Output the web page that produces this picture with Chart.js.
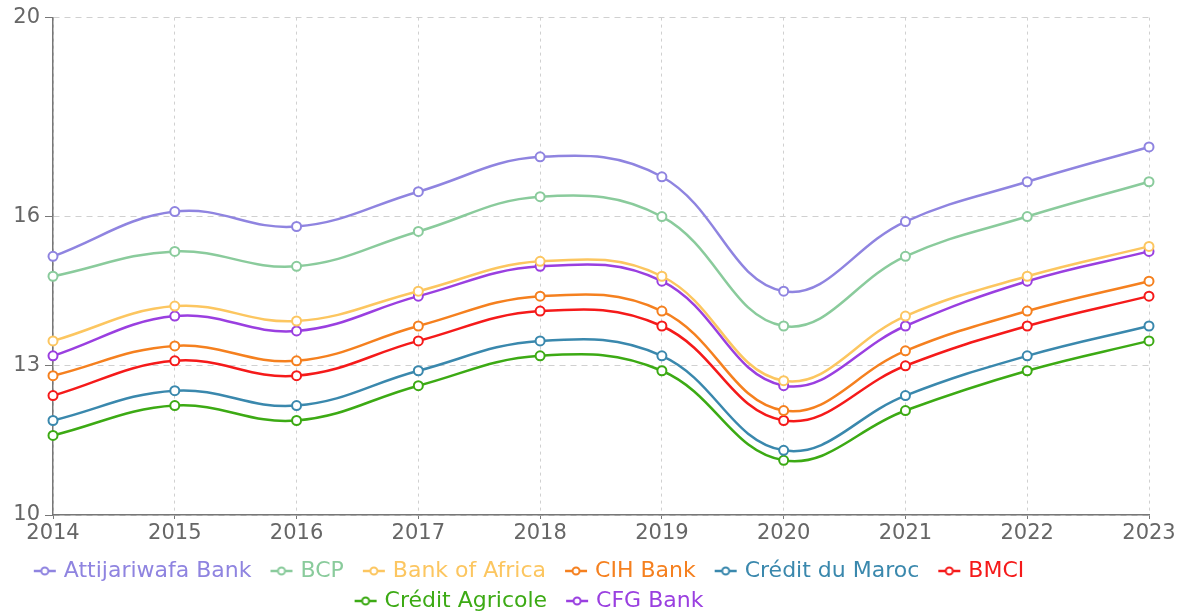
<!DOCTYPE html>
<html>
<head>
<meta charset="utf-8">
<script src="https://cdn.jsdelivr.net/npm/chart.js@4/dist/chart.umd.min.js"></script>
<style>
  html, body { margin: 0; padding: 0; background: #fff; }
  #wrap { width: 1186px; height: 612px; }
</style>
</head>
<body>
<div id="wrap"><canvas id="chart"></canvas></div>
<script>
var years = ["2014", "2015", "2016", "2017", "2018", "2019", "2020", "2021", "2022", "2023"];
var yTicks = [10, 13, 16, 20];

var attijariwafa = [15.2, 16.1, 15.8, 16.5, 17.2, 16.8, 14.5, 15.9, 16.7, 17.4];
var bcp = [14.8, 15.3, 15.0, 15.7, 16.4, 16.0, 13.8, 15.2, 16.0, 16.7];
var bankOfAfrica = [13.5, 14.2, 13.9, 14.5, 15.1, 14.8, 12.7, 14.0, 14.8, 15.4];
var cihBank = [12.8, 13.4, 13.1, 13.8, 14.4, 14.1, 12.1, 13.3, 14.1, 14.7];
var creditDuMaroc = [11.9, 12.5, 12.2, 12.9, 13.5, 13.2, 11.3, 12.4, 13.2, 13.8];
var bmci = [12.4, 13.1, 12.8, 13.5, 14.1, 13.8, 11.9, 13.0, 13.8, 14.4];
var creditAgricole = [11.6, 12.2, 11.9, 12.6, 13.2, 12.9, 11.1, 12.1, 12.9, 13.5];
var cfgBank = [13.2, 14.0, 13.7, 14.4, 15.0, 14.7, 12.6, 13.8, 14.7, 15.3];

var FONT = "'DejaVu Sans', sans-serif";

function series(label, data, color) {
  return {
    label: label,
    data: data,
    borderColor: color,
    backgroundColor: "#ffffff",
    borderWidth: 2.5,
    pointRadius: 4.5,
    pointBorderWidth: 2,
    pointBackgroundColor: "#ffffff",
    pointBorderColor: color,
    tension: 0.4,
    fill: false
  };
}

// line-with-circle marker for the legend, drawn off-centre so the
// gaps around it look like the original
function legendMarker(color) {
  var c = document.createElement("canvas");
  c.width = 48;
  c.height = 12;
  var g = c.getContext("2d");
  g.strokeStyle = color;
  g.lineWidth = 2.5;
  g.beginPath();
  g.moveTo(20, 6);
  g.lineTo(42, 6);
  g.stroke();
  g.fillStyle = "#fff";
  g.lineWidth = 2;
  g.beginPath();
  g.arc(31, 6, 3.5, 0, Math.PI * 2);
  g.fill();
  g.stroke();
  return c;
}

// nudge the legend left, the original is not centred on the canvas
var legendShift = {
  id: "legendShift",
  afterLayout: function (chart) {
    var l = chart.legend;
    if (!l) return;
    l.left -= 51;
    l.right -= 51;
  }
};

var ctx = document.getElementById("chart").getContext("2d");

const chart = new Chart(ctx, {
  type: "line",
  data: {
    labels: years,
    datasets: [
      series("Attijariwafa Bank", attijariwafa, "#8f84e0"),
      series("BCP", bcp, "#8acb9c"),
      series("Bank of Africa", bankOfAfrica, "#fcc660"),
      series("CIH Bank", cihBank, "#f5801f"),
      series("Crédit du Maroc", creditDuMaroc, "#3a88ad"),
      series("BMCI", bmci, "#f51a1a"),
      series("Crédit Agricole", creditAgricole, "#3caa14"),
      series("CFG Bank", cfgBank, "#9a3fe0")
    ]
  },
  plugins: [legendShift],
  options: {
    responsive: true,
    maintainAspectRatio: false,
    animation: false,
    layout: { padding: { top: 17, right: 37, left: 0, bottom: -10 } },
    scales: {
      x: {
        offset: false,
        border: { display: true, color: "#777", width: 1.5, dash: [3, 4] },
        grid: {
          color: "#d0d0d0",
          tickLength: 4,
          tickColor: "#777",
          tickBorderDash: []
        },
        ticks: {
          color: "#666",
          padding: 2,
          maxRotation: 0,
          font: { family: FONT, size: 21 }
        },
        afterFit: function (s) { s.height = 37; }
      },
      y: {
        min: 10,
        max: 20,
        border: { display: true, color: "#777", width: 1.5, dash: [6, 5] },
        grid: {
          color: "#d0d0d0",
          tickLength: 8,
          tickColor: "#777",
          tickBorderDash: []
        },
        afterBuildTicks: function (s) {
          s.ticks = yTicks.map(function (v) { return { value: v }; });
        },
        ticks: {
          color: "#666",
          padding: 5,
          font: { family: FONT, size: 21 }
        },
        afterFit: function (s) { s.width = 53; }
      }
    },
    plugins: {
      tooltip: { enabled: false },
      legend: {
        position: "bottom",
        labels: {
          usePointStyle: true,
          pointStyleWidth: 30,
          boxHeight: 12,
          padding: 8,
          font: { family: FONT, size: 22 },
          generateLabels: function (chart) {
            var items = Chart.defaults.plugins.legend.labels.generateLabels(chart);
            items.forEach(function (it) {
              var ds = chart.data.datasets[it.datasetIndex];
              it.pointStyle = legendMarker(ds.borderColor);
              it.fontColor = ds.borderColor;
            });
            return items;
          }
        }
      }
    }
  }
});
</script>
</body>
</html>
